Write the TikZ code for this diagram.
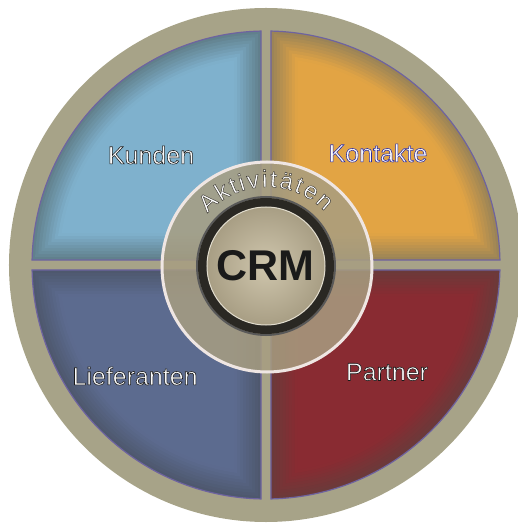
\documentclass[tikz,border=0pt]{standalone}
\usepackage{fontspec}
\setmainfont{Liberation Sans}
\newfontfamily\olfont[FakeBold=2.2]{Liberation Sans}
\newfontfamily\arcfont[FakeBold=1.8]{Liberation Sans}
\usetikzlibrary{decorations.text}
\definecolor{ringc}{HTML}{A7A388}
\definecolor{kunM}{HTML}{7FB1CD}\definecolor{kunE}{HTML}{61808C}
\definecolor{konM}{HTML}{E2A444}\definecolor{konE}{HTML}{9B8457}
\definecolor{lieM}{HTML}{5C6B8F}\definecolor{lieE}{HTML}{4E586E}
\definecolor{parM}{HTML}{892B32}\definecolor{parE}{HTML}{6B3A3A}
\definecolor{purp}{HTML}{6E63A0}
\definecolor{midring}{HTML}{A89E81}
\definecolor{rim}{HTML}{EFE6E3}
\definecolor{darkring}{HTML}{2A2823}
\definecolor{crmin}{HTML}{CFC6AD}\definecolor{crmout}{HTML}{A89E84}
\definecolor{lblwhite}{HTML}{FAFAFA}
\definecolor{lbldark}{HTML}{1A1A1A}
\newcommand\strokecol[3]{\special{pdf:literal direct #1 #2 #3 RG}}
\tikzset{
  lbl/.style={inner sep=0pt, text=lblwhite, font=\olfont\fontsize{25}{25}\selectfont},
}
\newcommand\quadfill[3]{%
  \begin{scope}[rotate=#1]
  \foreach \d [count=\i from 0] in {0,3,...,27}{
    \pgfmathsetmacro\RR{234-\d}
    \pgfmathsetmacro\gg{5+\d}
    \pgfmathsetmacro\dl{asin(\gg/\RR)}
    \pgfmathtruncatemacro\pc{min(100,\i*12)}
    \fill[#2!\pc!#3] (\gg,\gg) -- (90-\dl:\RR) arc[start angle=90-\dl, end angle=\dl, radius=\RR] -- cycle;
  }
  \pgfmathsetmacro\dl{asin(5/234)}
  \draw[purp, line width=1.2pt] (5,5) -- (90-\dl:234) arc[start angle=90-\dl, end angle=\dl, radius=234] -- cycle;
  \end{scope}}
\begin{document}
\begin{tikzpicture}[x=1pt,y=1pt]
\useasboundingbox (-266,-259) rectangle (251,265);
% outer disc
\fill[ringc] (0,0) circle (257);
% quadrants
\quadfill{0}{konM}{konE}
\quadfill{90}{kunM}{kunE}
\quadfill{180}{lieM}{lieE}
\quadfill{270}{parM}{parE}
% middle ring
\fill[midring, opacity=0.85] (1,-2) circle (105);
\draw[rim, line width=3pt] (1,-2) circle (105);
% CRM disc
\draw[gray!70!black, line width=2pt] (0,-1) circle (69);
\draw[darkring, line width=9pt] (0,-1) circle (63.5);
\shade[inner color=crmin, outer color=crmout] (0,-1) circle (59);
\draw[crmin!60!white, line width=1pt] (0,-1) circle (59);
\node[inner sep=0pt, text=lbldark, font=\fontsize{43}{43}\selectfont\bfseries] (crm) at (-1,-1) {CRM};
% arc text
\path[decorate, decoration={text along path, text align={fit to path},
    text={|\arcfont\fontsize{24}{24}\selectfont\color{white}\strokecol{0.2}{0.19}{0.17}|Aktivitäten}}]
    (1,-2) ++(138:80) arc[start angle=138, end angle=44, radius=80];
% labels
\node[lbl] (kunden) at (-115,110) {\strokecol{0.1}{0.1}{0.1}Kunden};
\node[lbl] (kontakte) at (112,112) {\strokecol{0.16}{0.16}{0.63}Kontakte};
\node[lbl] (lieferanten) at (-131,-111) {\strokecol{0.1}{0.1}{0.1}Lieferanten};
\node[lbl] (partner) at (121,-107) {\strokecol{0.1}{0.1}{0.1}Partner};
\end{tikzpicture}
\end{document}
